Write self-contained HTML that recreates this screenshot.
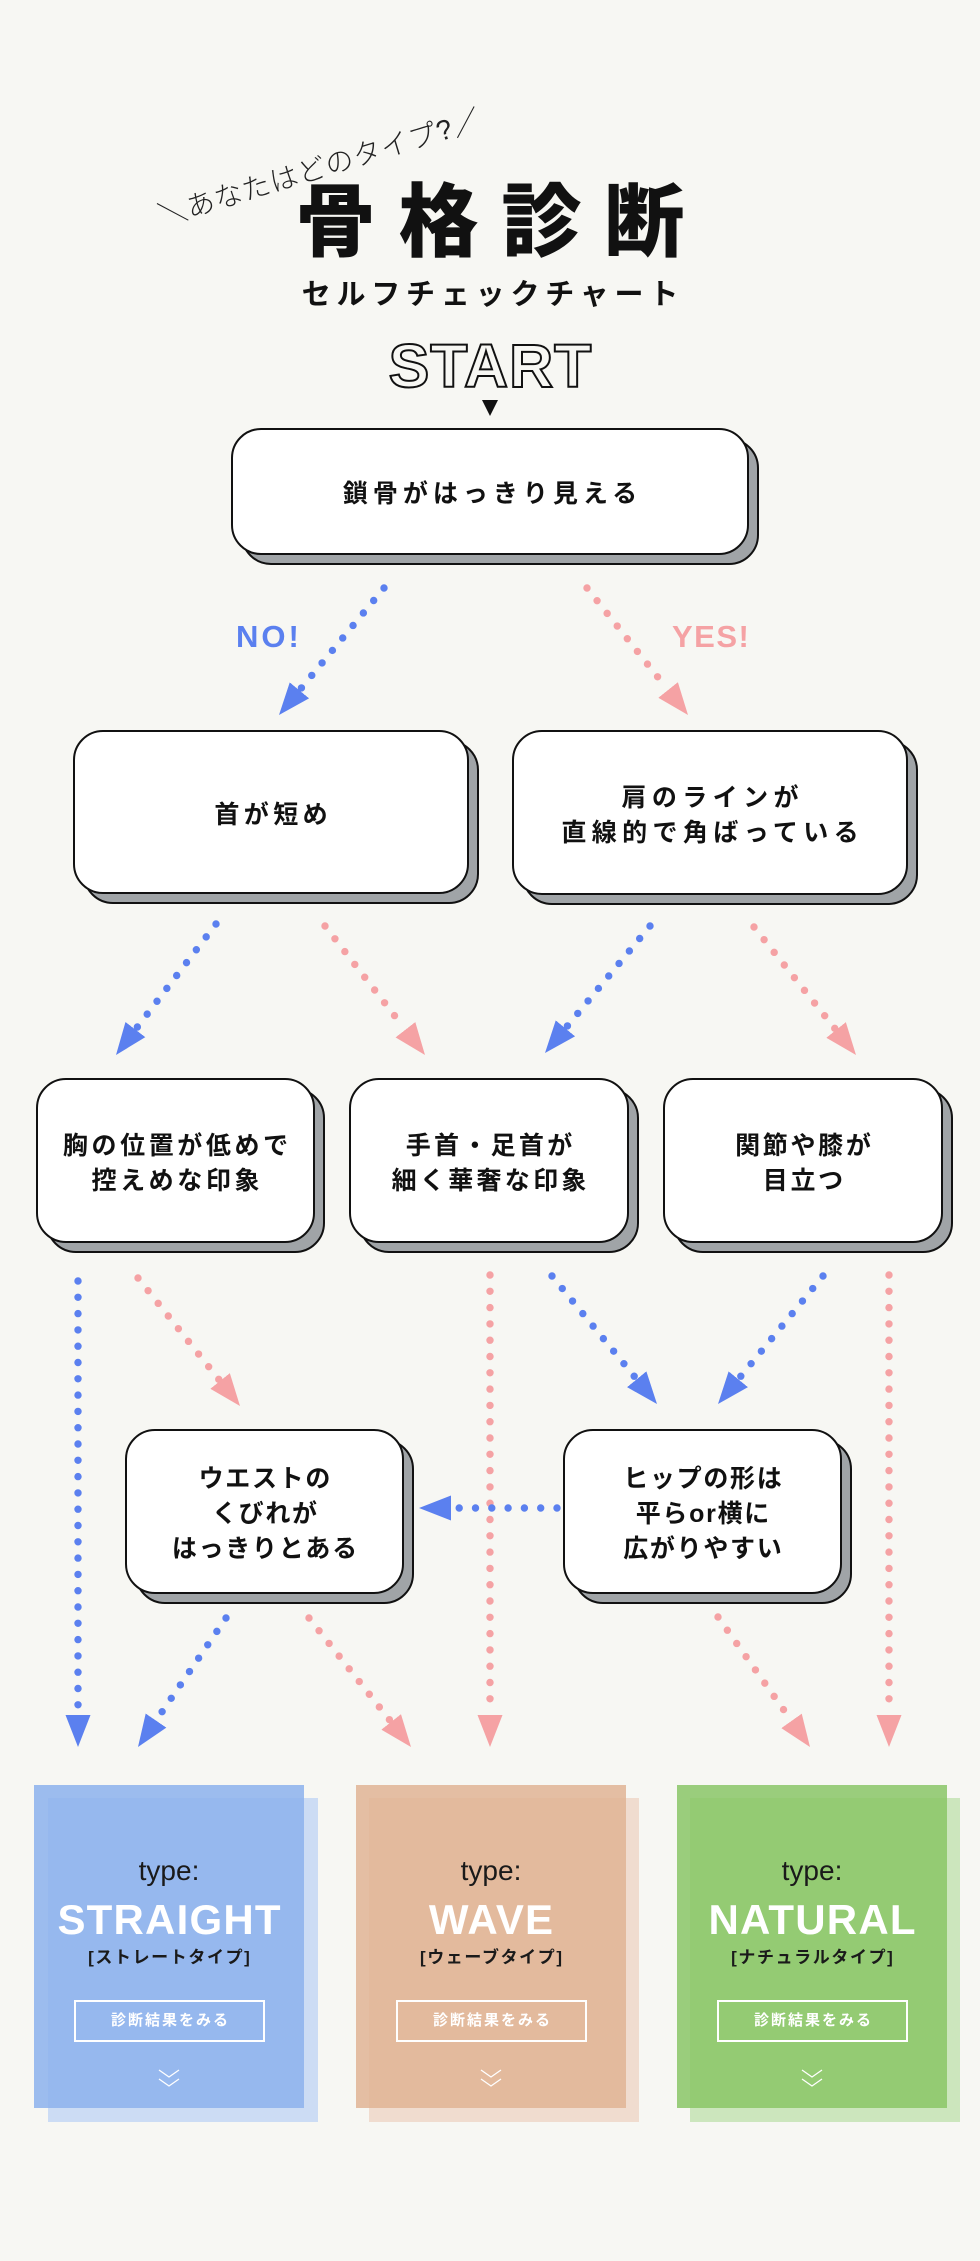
<!DOCTYPE html>
<html><head><meta charset="utf-8">
<style>
*{margin:0;padding:0;box-sizing:border-box}
html,body{width:980px;height:2261px;background:#f7f7f3;overflow:hidden}
body{position:relative;font-family:"Liberation Sans","Noto Sans CJK JP",sans-serif;color:#111}
.abs{position:absolute}
.title{left:0;top:183px;width:980px;text-align:center;font-size:80px;line-height:80px;font-weight:900;letter-spacing:23px;padding-left:23px;color:#111;white-space:nowrap}
.sub{left:0;top:281px;width:980px;text-align:center;font-size:29px;line-height:29px;font-weight:700;letter-spacing:5.8px;padding-left:5.8px;color:#111;white-space:nowrap}
.start{left:0;top:336px;width:980px;text-align:center;font-size:61px;line-height:61px;font-weight:700;letter-spacing:1px;padding-left:1px;color:#f7f7f3;-webkit-text-stroke:2px #111;font-family:"Liberation Sans",sans-serif}
.lbl{font-size:31px;line-height:31px;font-weight:700;font-family:"Liberation Sans",sans-serif;top:621px}
.box{position:absolute}
.box .sh{position:absolute;left:10px;top:10px;right:-10px;bottom:-10px;background:#a0a4a7;border:2px solid #111;border-radius:30px}
.box .fr{position:absolute;left:0;top:0;right:0;bottom:0;background:#fff;border:2px solid #111;border-radius:30px;display:flex;align-items:center;justify-content:center;text-align:center;font-weight:700;font-size:25px;line-height:35px;padding-top:6px;color:#111}
.panel{position:absolute;width:270px;height:323px}
.panel .t{position:absolute;left:0;width:270px;text-align:center;white-space:nowrap}
.panel .ty{top:72px;font-size:28px;line-height:28px;color:#1a1a1a;font-family:"Liberation Sans",sans-serif}
.panel .nm{top:114px;font-size:42px;line-height:42px;font-weight:700;color:#fff;letter-spacing:1.2px;padding-left:1.2px;font-family:"Liberation Sans",sans-serif}
.panel .br{top:164px;font-size:17px;line-height:17px;font-weight:700;color:#1a1a1a;letter-spacing:1.6px;padding-left:1.6px}
.panel .btn{position:absolute;left:40px;top:215px;width:191px;height:42px;border:2px solid #fff;color:#fff;font-size:15px;line-height:38px;font-weight:700;text-align:center;letter-spacing:2px;padding-left:2px}
.panel svg{position:absolute;left:124px;top:284px}
</style>
</head>
<body>

<svg class="abs" style="left:0;top:0" width="980" height="2261" viewBox="0 0 980 2261">
<defs>
<marker id="mb" markerUnits="userSpaceOnUse" markerWidth="32" markerHeight="25" viewBox="0 0 32 25" refX="32" refY="12.5" orient="auto"><path d="M0,0L32,12.5L0,25Z" fill="#5b80ef"/></marker>
<marker id="mp" markerUnits="userSpaceOnUse" markerWidth="32" markerHeight="25" viewBox="0 0 32 25" refX="32" refY="12.5" orient="auto"><path d="M0,0L32,12.5L0,25Z" fill="#f5a2a4"/></marker>
</defs>

<g transform="translate(320,168) rotate(-17)">
<text x="0" y="0" text-anchor="middle" dominant-baseline="central" font-size="28" font-weight="300" letter-spacing="1" fill="#222" style="font-family:'Liberation Sans','Noto Sans CJK JP',sans-serif">＼あなたはどのタイプ?／</text>
</g>

<polygon points="482,400 498,400 490,416" fill="#111"/>

<g stroke-width="7.4" stroke-linecap="round" stroke-dasharray="0 16.2" fill="none">
<line x1="384" y1="588" x2="300.7" y2="688.8" stroke="#5b80ef"/>
<line x1="587" y1="588" x2="666.8" y2="688.4" stroke="#f5a2a4"/>
<line x1="216" y1="924" x2="136.6" y2="1028" stroke="#5b80ef"/>
<line x1="325" y1="926" x2="404.2" y2="1028.1" stroke="#f5a2a4"/>
<line x1="650" y1="926" x2="566.7" y2="1026.8" stroke="#5b80ef"/>
<line x1="754" y1="927" x2="834.8" y2="1028.4" stroke="#f5a2a4"/>
<line x1="138" y1="1278" x2="218.8" y2="1379.4" stroke="#f5a2a4"/>
<line x1="552" y1="1276" x2="635.4" y2="1377.7" stroke="#5b80ef"/>
<line x1="823" y1="1276" x2="739.6" y2="1377.7" stroke="#5b80ef"/>
<line x1="226" y1="1618" x2="157.2" y2="1718.9" stroke="#5b80ef"/>
<line x1="309" y1="1618" x2="389.9" y2="1720.3" stroke="#f5a2a4"/>
<line x1="718" y1="1617" x2="790.4" y2="1719.3" stroke="#f5a2a4"/>
</g>
<g stroke-width="7.4" stroke-linecap="round" stroke-dasharray="0 16.3" fill="none">
<line x1="78" y1="1281" x2="78" y2="1706" stroke="#5b80ef"/>
<line x1="490" y1="1275" x2="490" y2="1706" stroke="#f5a2a4"/>
<line x1="889" y1="1275" x2="889" y2="1706" stroke="#f5a2a4"/>
<line x1="557" y1="1508" x2="453" y2="1508" stroke="#5b80ef"/>
</g>

<g stroke="transparent" stroke-width="1" fill="none">
<line x1="384" y1="588" x2="279" y2="715" marker-end="url(#mb)"/>
<line x1="587" y1="588" x2="688" y2="715" marker-end="url(#mp)"/>
<line x1="216" y1="924" x2="116" y2="1055" marker-end="url(#mb)"/>
<line x1="325" y1="926" x2="425" y2="1055" marker-end="url(#mp)"/>
<line x1="650" y1="926" x2="545" y2="1053" marker-end="url(#mb)"/>
<line x1="754" y1="927" x2="856" y2="1055" marker-end="url(#mp)"/>
<line x1="138" y1="1278" x2="240" y2="1406" marker-end="url(#mp)"/>
<line x1="552" y1="1276" x2="657" y2="1404" marker-end="url(#mb)"/>
<line x1="823" y1="1276" x2="718" y2="1404" marker-end="url(#mb)"/>
<line x1="226" y1="1618" x2="138" y2="1747" marker-end="url(#mb)"/>
<line x1="309" y1="1618" x2="411" y2="1747" marker-end="url(#mp)"/>
<line x1="718" y1="1617" x2="810" y2="1747" marker-end="url(#mp)"/>
<line x1="78" y1="1281" x2="78" y2="1747" marker-end="url(#mb)"/>
<line x1="490" y1="1275" x2="490" y2="1747" marker-end="url(#mp)"/>
<line x1="889" y1="1275" x2="889" y2="1747" marker-end="url(#mp)"/>
<line x1="557" y1="1508" x2="419" y2="1508" marker-end="url(#mb)"/>
</g>
</svg>

<div class="abs title">骨格診断</div>
<div class="abs sub">セルフチェックチャート</div>
<div class="abs start">START</div>

<div class="abs lbl" style="left:236px;color:#5b80ef;letter-spacing:3px">NO!</div>
<div class="abs lbl" style="left:672px;color:#f5a2a4;letter-spacing:1.5px">YES!</div>

<div class="box" style="left:231px;top:428px;width:518px;height:127px"><div class="sh"></div><div class="fr"><span style="letter-spacing:5px;padding-left:5px">鎖骨がはっきり見える</span></div></div>

<div class="box" style="left:73px;top:730px;width:396px;height:164px"><div class="sh"></div><div class="fr"><span style="letter-spacing:4.4px;padding-left:4.4px">首が短め</span></div></div>
<div class="box" style="left:512px;top:730px;width:396px;height:165px"><div class="sh"></div><div class="fr"><span style="letter-spacing:5.4px;padding-left:5.4px">肩のラインが<br>直線的で角ばっている</span></div></div>

<div class="box" style="left:36px;top:1078px;width:279px;height:165px"><div class="sh"></div><div class="fr"><span style="letter-spacing:3.6px;padding-left:3.6px">胸の位置が低めで<br>控えめな印象</span></div></div>
<div class="box" style="left:349px;top:1078px;width:280px;height:165px"><div class="sh"></div><div class="fr"><span style="letter-spacing:3.3px;padding-left:3.3px">手首・足首が<br>細く華奢な印象</span></div></div>
<div class="box" style="left:663px;top:1078px;width:280px;height:165px"><div class="sh"></div><div class="fr"><span style="letter-spacing:2.7px;padding-left:2.7px">関節や膝が<br>目立つ</span></div></div>

<div class="box" style="left:125px;top:1429px;width:279px;height:165px"><div class="sh"></div><div class="fr"><span style="letter-spacing:1.7px;padding-left:1.7px">ウエストの<br>くびれが<br>はっきりとある</span></div></div>
<div class="box" style="left:563px;top:1429px;width:279px;height:165px"><div class="sh"></div><div class="fr"><span style="letter-spacing:1.7px;padding-left:1.7px">ヒップの形は<br>平らor横に<br>広がりやすい</span></div></div>

<div class="abs" style="left:48px;top:1798px;width:270px;height:324px;background:#ccdcf4"></div>
<div class="panel" style="left:34px;top:1785px;background:rgba(140,178,236,.85)">
<div class="t ty">type:</div>
<div class="t nm">STRAIGHT</div>
<div class="t br">[ストレートタイプ]</div>
<div class="btn">診断結果をみる</div>
<svg width="22" height="20" viewBox="0 0 22 20"><polyline points="1,1 11,8 21,1" fill="none" stroke="#fff" stroke-width="1.3"/><polyline points="1,10 11,17 21,10" fill="none" stroke="#fff" stroke-width="1.3"/></svg>
</div>

<div class="abs" style="left:369px;top:1798px;width:270px;height:324px;background:#f0dccf"></div>
<div class="panel" style="left:356px;top:1785px;background:rgba(225,180,148,.85)">
<div class="t ty">type:</div>
<div class="t nm">WAVE</div>
<div class="t br">[ウェーブタイプ]</div>
<div class="btn">診断結果をみる</div>
<svg width="22" height="20" viewBox="0 0 22 20"><polyline points="1,1 11,8 21,1" fill="none" stroke="#fff" stroke-width="1.3"/><polyline points="1,10 11,17 21,10" fill="none" stroke="#fff" stroke-width="1.3"/></svg>
</div>

<div class="abs" style="left:690px;top:1798px;width:270px;height:324px;background:#cce6bd"></div>
<div class="panel" style="left:677px;top:1785px;background:rgba(138,198,102,.85)">
<div class="t ty">type:</div>
<div class="t nm">NATURAL</div>
<div class="t br">[ナチュラルタイプ]</div>
<div class="btn">診断結果をみる</div>
<svg width="22" height="20" viewBox="0 0 22 20"><polyline points="1,1 11,8 21,1" fill="none" stroke="#fff" stroke-width="1.3"/><polyline points="1,10 11,17 21,10" fill="none" stroke="#fff" stroke-width="1.3"/></svg>
</div>

</body></html>
